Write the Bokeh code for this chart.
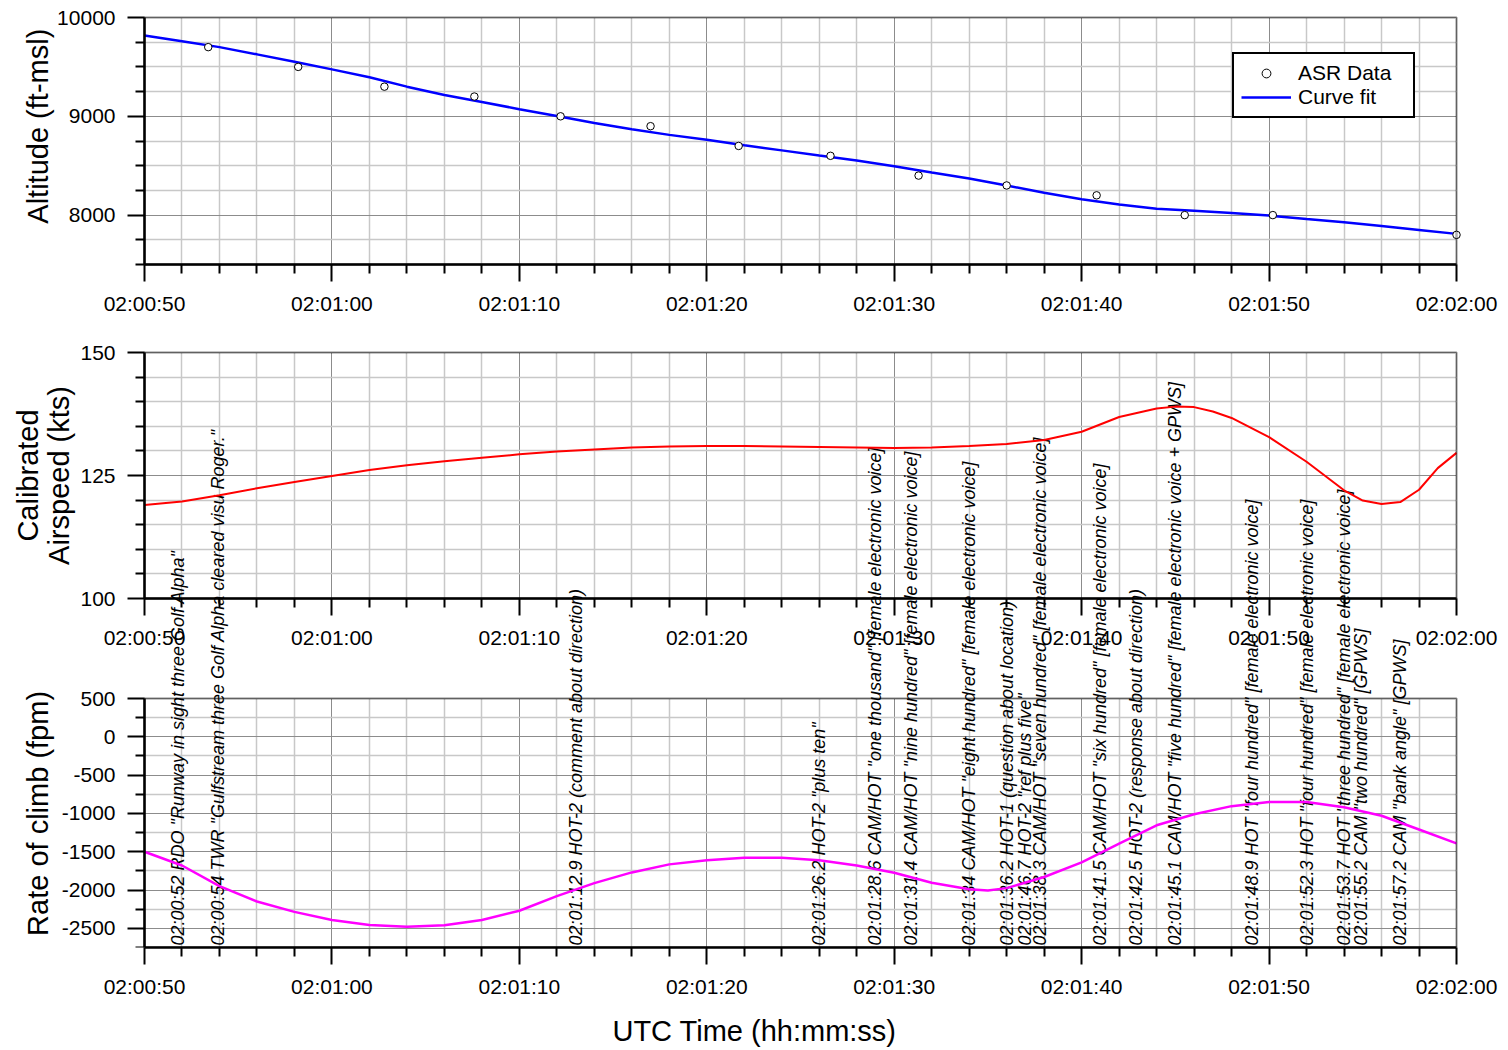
import math
from bokeh.plotting import figure
from bokeh.models import (Range1d, LinearAxis, DatetimeAxis, FixedTicker, DatetimeTickFormatter,
                          PrintfTickFormatter, Grid, BoxAnnotation, Label, Legend, LegendItem,
                          ColumnDataSource)
from bokeh.core.properties import value
from bokeh.embed import file_html
from bokeh.resources import INLINE

# ---------------- data (times are seconds past 02:00:00 UTC) ----------------
ASR_TIME = ["02:00:53.4", "02:00:58.2", "02:01:02.8", "02:01:07.6", "02:01:12.2", "02:01:17.0",
            "02:01:21.7", "02:01:26.6", "02:01:31.3", "02:01:36.0", "02:01:40.8", "02:01:45.5",
            "02:01:50.2", "02:02:00.0"]
ASR_ALT = [9700, 9500, 9300, 9200, 9000, 8900, 8700, 8600, 8400, 8300, 8200, 8000, 8000, 7800]

FIT_SEC = [50, 52, 54, 56, 58, 60, 62, 64, 66, 68, 70, 72, 74, 76, 78, 80, 82, 84, 86, 88,
           90, 92, 94, 96, 98, 100, 102, 104, 106, 108, 110, 112, 114, 116, 118, 120]
FIT_ALT = [9818, 9760, 9700, 9627, 9552, 9475, 9395, 9300, 9215, 9145, 9072, 9003, 8933, 8868,
           8812, 8762, 8706, 8655, 8603, 8553, 8495, 8432, 8370, 8300, 8226, 8160, 8108, 8065,
           8045, 8022, 7995, 7960, 7928, 7890, 7850, 7810]

CAS_SEC = [50, 52, 54, 56, 58, 60, 62, 64, 66, 68, 70, 72, 74, 76, 78, 80, 82, 84, 86, 88, 90,
           92, 94, 96, 98, 100, 102, 104, 105, 106, 107, 108, 110, 112, 114, 115, 116, 117, 118,
           119, 120]
CAS_KTS = [119.0, 119.7, 121.0, 122.4, 123.7, 124.9, 126.1, 127.1, 127.9, 128.6, 129.3, 129.9,
           130.3, 130.7, 130.9, 131.0, 131.0, 130.9, 130.8, 130.7, 130.6, 130.7, 131.0, 131.4,
           132.2, 133.9, 136.9, 138.6, 139.0, 138.9, 138.0, 136.7, 132.8, 127.8, 122.0, 119.9,
           119.2, 119.6, 122.1, 126.5, 129.6]

ROC_SEC = [50, 52, 54, 56, 58, 60, 62, 64, 66, 68, 70, 72, 74, 76, 78, 80, 82, 84, 86, 88, 90,
           92, 94, 95, 96, 98, 100, 102, 104, 106, 108, 110, 112, 114, 116, 118, 120]
ROC_FPM = [-1500, -1680, -1950, -2150, -2285, -2390, -2455, -2480, -2460, -2390, -2270, -2080,
           -1910, -1770, -1665, -1610, -1580, -1580, -1610, -1680, -1775, -1905, -1990, -2005,
           -1975, -1830, -1640, -1395, -1155, -1010, -905, -850, -850, -920, -1030, -1210, -1390]

EVENT_SEC = [51.8, 53.9, 73.0, 86.0, 89.0, 90.9, 94.0, 96.0, 97.0, 97.8, 101.0, 102.9, 105.0,
             109.1, 112.0, 114.0, 114.9, 117.0]
EVENT_TEXT = [
    '02:00:52 RDO "Runway in sight three Golf Alpha"',
    '02:00:54 TWR "Gulfstream three Golf Alpha cleared visu Roger."',
    '02:01:12.9 HOT-2 (comment about direction)',
    '02:01:26.2 HOT-2 "plus ten"',
    '02:01:28.6 CAM/HOT "one thousand" [female electronic voice]',
    '02:01:31.4 CAM/HOT "nine hundred" [female electronic voice]',
    '02:01:34 CAM/HOT "eight hundred" [female electronic voice]',
    '02:01:36.2 HOT-1 (question about location)',
    '02:01:46.7 HOT-2 "ref plus five"',
    '02:01:38.3 CAM/HOT "seven hundred" [female electronic voice]',
    '02:01:41.5 CAM/HOT "six hundred" [female electronic voice]',
    '02:01:42.5 HOT-2 (response about direction)',
    '02:01:45.1 CAM/HOT "five hundred" [female electronic voice + GPWS]',
    '02:01:48.9 HOT "four hundred" [female electronic voice]',
    '02:01:52.3 HOT "four hundred" [female electronic voice]',
    '02:01:53.7 HOT "three hundred" [female electronic voice]',
    '02:01:55.2 CAM "two hundred" [GPWS]',
    '02:01:57.2 CAM "bank angle" [GPWS]',
]

X_TICKS = ["02:00:50", "02:01:00", "02:01:10", "02:01:20", "02:01:30", "02:01:40", "02:01:50", "02:02:00"]
ALT_TICKS = [8000, 9000, 10000]
CAS_TICKS = [100, 125, 150]
ROC_TICKS = [-2500, -2000, -1500, -1000, -500, 0, 500]

# ---------------- helpers ----------------
def clock_ms(s):
    h, m, sec = s.split(":")
    return (int(h) * 3600 + int(m) * 60 + float(sec)) * 1000.0

def sec_ms(sec):
    return (2 * 3600 + sec) * 1000.0

X0, X1 = clock_ms(X_TICKS[0]), clock_ms(X_TICKS[-1])
x_major = [clock_ms(t) for t in X_TICKS]
x_minor = [X0 + k * 2000.0 for k in range(36) if k % 5 != 0]

# layout: one frame covering the page; panels occupy these pixel rows/columns
W, FRAME_H = 1508, 947
PLOT_LEFT, PLOT_RIGHT = 144, 1456
PANELS = {
    "alt": (17, 264, 7500, 10000),
    "cas": (352, 598, 100, 150),
    "roc": (698, 947, -2750, 500),
}

def full_range(name):
    top, bot, lo, hi = PANELS[name]
    k = (hi - lo) / (bot - top)
    return Range1d(lo - (FRAME_H - bot) * k, hi + top * k)

kx = (X1 - X0) / (PLOT_RIGHT - PLOT_LEFT)
x_range = Range1d(X0 - PLOT_LEFT * kx, X1 + (W - PLOT_RIGHT) * kx)

FONT = "Liberation Sans"

p = figure(frame_width=W, frame_height=FRAME_H,
           x_axis_type="datetime", x_range=x_range, y_range=full_range("roc"),
           y_axis_location=None, toolbar_location=None, output_backend="svg",
           min_border_left=0, min_border_right=0, min_border_top=0,
           min_border_bottom=103)
p.extra_y_ranges = {"alt": full_range("alt"), "cas": full_range("cas")}
p.outline_line_color = None
p.background_fill_color = "white"
p.border_fill_color = "white"
for g in p.grid:
    g.visible = False

xfmt = DatetimeTickFormatter(milliseconds="%H:%M:%S", seconds="%H:%M:%S", minsec="%H:%M:%S",
                             minutes="%H:%M:%S", hourmin="%H:%M:%S", hours="%H:%M:%S")

def style_axis(ax, standoff):
    ax.axis_line_width = 2.5
    ax.axis_line_color = "black"
    ax.major_tick_line_width = 2
    ax.minor_tick_line_width = 2
    ax.major_tick_out = 17
    ax.major_tick_in = 0
    ax.minor_tick_out = 9
    ax.minor_tick_in = 0
    ax.major_label_text_font = FONT
    ax.major_label_text_font_size = "21px"
    ax.major_label_text_color = "black"
    ax.major_label_standoff = standoff

def xticker():
    return FixedTicker(ticks=x_major, minor_ticks=x_minor)

# bottom (default) x axis
bx = p.xaxis[0]
bx.ticker = xticker()
bx.formatter = xfmt
bx.bounds = (X0, X1)
style_axis(bx, 10)
bx.axis_label = "UTC Time (hh:mm:ss)"
bx.axis_label_text_font = FONT
bx.axis_label_text_font_size = "29px"
bx.axis_label_text_font_style = "normal"
bx.axis_label_text_color = "black"
bx.axis_label_standoff = 14

def y_minor(lo, hi, step, majors):
    out, v = [], lo
    while v <= hi + 1e-9:
        if all(abs(v - m) > 1e-9 for m in majors):
            out.append(v)
        v += step
    return out

Y_SPECS = {
    "alt": (ALT_TICKS, 250),
    "cas": (CAS_TICKS, 5),
    "roc": (ROC_TICKS, 250),
}

for name, (top, bot, lo, hi) in PANELS.items():
    majors, step = Y_SPECS[name]
    rname = "default" if name == "roc" else name
    yt = FixedTicker(ticks=majors, minor_ticks=y_minor(lo, hi, step, majors))
    # panel y axis, pinned to the left edge of the panel
    ya = LinearAxis(y_range_name=rname, fixed_location=X0, bounds=(lo, hi), ticker=yt,
                    formatter=PrintfTickFormatter(format="%d"))
    style_axis(ya, 12)
    p.add_layout(ya, "left")
    # panel x axis for the upper two panels
    if name != "roc":
        xa = DatetimeAxis(y_range_name=rname, fixed_location=lo, bounds=(X0, X1),
                          ticker=xticker(), formatter=xfmt)
        style_axis(xa, 10)
        p.add_layout(xa, "below")
    # grids
    vg = Grid(dimension=0, ticker=xticker(), y_range_name=rname, cross_bounds=(lo, hi),
              grid_line_color="#8c8c8c", grid_line_width=1,
              minor_grid_line_color="#c8c8c8", minor_grid_line_width=1.5, level="underlay")
    hg = Grid(dimension=1, ticker=yt, y_range_name=rname, cross_bounds=(X0, X1),
              grid_line_color="#8c8c8c", grid_line_width=1,
              minor_grid_line_color="#c8c8c8", minor_grid_line_width=1.5, level="underlay")
    p.add_layout(vg)
    p.add_layout(hg)
    # panel frame
    p.add_layout(BoxAnnotation(left=X0, right=X1, bottom=lo, top=hi, y_range_name=rname,
                               fill_color=None, line_color="black", line_width=2.5))

# ---------------- glyphs ----------------
ev = ColumnDataSource(dict(x=[sec_ms(s) for s in EVENT_SEC], text=EVENT_TEXT))
p.text(x="x", y=PANELS["roc"][2], text="text", source=ev, angle=math.pi / 2,
       text_font=value(FONT), text_font_style="italic", text_font_size="18px",
       text_align="left", text_baseline="middle", text_color="black", y_offset=-2)

fit = p.line([sec_ms(s) for s in FIT_SEC], FIT_ALT, y_range_name="alt",
             line_color="#0000ff", line_width=2.5)
asr = p.scatter([clock_ms(t) for t in ASR_TIME], ASR_ALT, y_range_name="alt", marker="circle",
                size=7.5, fill_color="white", line_color="black", line_width=1)
p.line([sec_ms(s) for s in CAS_SEC], CAS_KTS, y_range_name="cas",
       line_color="#ff0000", line_width=2)
p.line([sec_ms(s) for s in ROC_SEC], ROC_FPM, line_color="#ff00ff", line_width=2.5)

# ---------------- y axis titles ----------------
def ytitle(text, y, rname, xoff):
    kw = dict(x=X0, y=y, text=text, angle=math.pi / 2, x_offset=xoff,
              text_align="center", text_baseline="middle", text_font=FONT,
              text_font_size="29px", text_color="black")
    if rname != "default":
        kw["y_range_name"] = rname
    p.add_layout(Label(**kw))

ytitle("Altitude (ft-msl)", 8900, "alt", -107)
ytitle("Calibrated", 125, "cas", -117)
ytitle("Airspeed (kts)", 125, "cas", -86)
ytitle("Rate of climb (fpm)", -1000, "default", -107)

# ---------------- legend ----------------
legend = Legend(items=[LegendItem(label="ASR Data", renderers=[asr]),
                       LegendItem(label="Curve fit", renderers=[fit])],
                location=(1232, FRAME_H - 118),
                label_text_font=FONT, label_text_font_size="21px",
                label_text_color="black",
                border_line_color="black", border_line_width=2, border_line_alpha=1,
                background_fill_color="white", background_fill_alpha=1,
                padding=7, spacing=0, margin=0, glyph_width=50, glyph_height=22,
                label_standoff=7, label_width=108)
p.add_layout(legend)

open("out.html", "w").write(file_html(p, INLINE))
